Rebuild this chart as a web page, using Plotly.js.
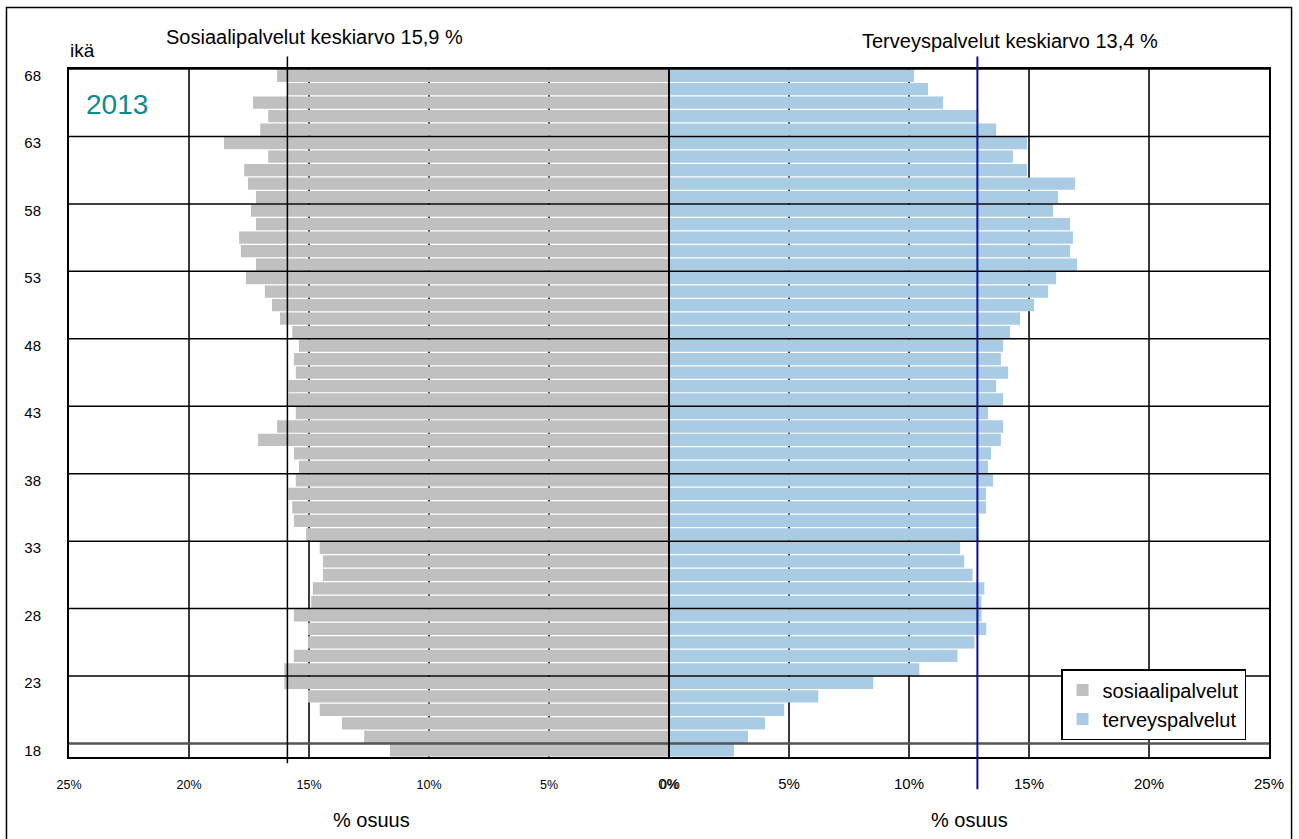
<!DOCTYPE html>
<html>
<head>
<meta charset="utf-8">
<script src="https://cdn.plot.ly/plotly-3.0.1.min.js"></script>
<style>
html,body{margin:0;padding:0;background:#fff;}
#chart{width:1299px;height:839px;}
</style>
</head>
<body>
<div id="chart"></div>
<script>
// Age categories (top to bottom)
const ages = [68,67,66,65,64,63,62,61,60,59,58,57,56,55,54,53,52,51,50,49,48,47,46,45,44,43,42,41,40,39,38,37,36,35,34,33,32,31,30,29,28,27,26,25,24,23,22,21,20,19,18];

// Share (%) – social services (drawn to the left)
const sosiaalipalvelut = [16.33,15.90,17.33,16.70,17.03,18.54,16.70,17.70,17.54,17.21,17.42,17.21,17.91,17.84,17.21,17.63,16.84,16.54,16.21,15.70,15.42,15.63,15.55,15.86,15.86,15.55,16.33,17.12,15.63,15.42,15.55,15.86,15.70,15.63,15.12,14.55,14.42,14.42,14.84,14.91,15.63,15.04,15.04,15.63,16.03,16.03,15.04,14.55,13.63,12.70,11.63];

// Share (%) – health services (drawn to the right)
const terveyspalvelut = [10.21,10.79,11.42,12.89,13.63,14.92,14.33,14.92,16.92,16.21,16.00,16.71,16.83,16.71,17.00,16.13,15.79,15.21,14.63,14.21,13.92,13.83,14.13,13.63,13.92,13.29,13.92,13.83,13.42,13.29,13.50,13.21,13.21,12.92,12.92,12.13,12.30,12.65,13.14,13.02,13.02,13.22,12.73,12.02,10.43,8.51,6.22,4.80,4.00,3.29,2.71];

// Average reference lines (positions)
const sosiaaliMean = 15.9;
const terveysMean = 12.85;

// Tick labels
const ageTickVals = [68,63,58,53,48,43,38,33,28,23,18];
const leftTickVals = [-25,-20,-15,-10,-5,0];
const leftTickText = ['25%','20%','15%','10%','5%','0%'];
const rightTickVals = [0,5,10,15,20,25];
const rightTickText = ['0%','5%','10%','15%','20%','25%'];

const seriesNames = ['sosiaalipalvelut','terveyspalvelut'];
const titleTexts = ['Sosiaalipalvelut keskiarvo 15,9 %','Terveyspalvelut keskiarvo 13,4 %'];
const yearText = '2013';
const ageTitle = 'ikä';
const axisTitle = '% osuus';

const FONT = 'Liberation Sans, Arial, sans-serif';

const traces = [
  {
    type:'bar', orientation:'h', name:seriesNames[0],
    y:ages, x:sosiaalipalvelut.map(v=>-v),
    marker:{color:'#C0C0C0', line:{width:0}},
    xaxis:'x', yaxis:'y', hoverinfo:'skip'
  },
  {
    type:'bar', orientation:'h', name:seriesNames[1],
    y:ages, x:terveyspalvelut,
    marker:{color:'#A9CCE4', line:{width:0}},
    xaxis:'x2', yaxis:'y', hoverinfo:'skip'
  }
];

const shapes = [];
ageTickVals.forEach(t=>{
  const last = (t === 18);
  shapes.push({type:'line', xref:'paper', yref:'y', x0:0, x1:1, y0:t+0.5, y1:t+0.5,
    line:{color: last ? '#555' : '#000', width: last ? 2.5 : 1.5}, layer:'above'});
});
// centre line
shapes.push({type:'line', xref:'x', yref:'paper', x0:0, x1:0, y0:0, y1:1, line:{color:'#000', width:2}, layer:'above'});
// mean lines
shapes.push({type:'line', xref:'x', yref:'paper', x0:-sosiaaliMean, x1:-sosiaaliMean, y0:-0.009, y1:1.018, line:{color:'#000', width:1.5}, layer:'above'});
shapes.push({type:'line', xref:'x', yref:'paper', x0:terveysMean, x1:terveysMean, y0:-0.047, y1:1.018, line:{color:'#10109a', width:2}, layer:'above'});
// outer frame
shapes.push({type:'rect', xref:'paper', yref:'paper', x0:-0.0521, x1:1.0188, y0:-0.2, y1:1.0894, line:{color:'#000', width:1.5}, fillcolor:'rgba(0,0,0,0)', layer:'above'});

function ann(text, x, y, size, color){
  return {text:text, xref:'paper', yref:'paper', x:x, y:y, xanchor:'center', yanchor:'middle',
          showarrow:false, font:{family:FONT, size:size, color:color}};
}
const annotations = [
  ann(ageTitle, 0.0113, 1.0276, 19, '#000'),
  ann(yearText, 0.0396, 0.9477, 28, '#0F8A8A'),
  ann(titleTexts[0], 0.2046, 1.0465, 20, '#000'),
  ann(titleTexts[1], 0.7838, 1.0407, 20, '#000'),
  ann(axisTitle, 0.2517, -0.0916, 20, '#000'),
  ann(axisTitle, 0.7508, -0.0916, 20, '#000')
];

const layout = {
  width:1299, height:839,
  margin:{l:69, r:30, t:69, b:82, pad:0},
  paper_bgcolor:'#fff', plot_bgcolor:'#fff',
  font:{family:FONT, color:'#000'},
  barmode:'overlay', bargap:0.09,
  showlegend:true,
  legend:{x:0.8267, y:0.1279, xanchor:'left', yanchor:'top', bgcolor:'#fff', bordercolor:'#000', borderwidth:1.5,
          font:{family:FONT, size:20, color:'#000'}, traceorder:'normal'},
  xaxis:{range:[-25,25], tickmode:'array', tickvals:leftTickVals, ticktext:leftTickText,
         tickfont:{family:FONT, size:12.5, color:'#000'}, ticks:'outside', ticklen:15, tickcolor:'rgba(0,0,0,0)',
         showgrid:true, gridcolor:'#3a3a3a', gridwidth:1.5, zeroline:false,
         showline:true, mirror:true, linecolor:'#000', linewidth:2, fixedrange:true},
  xaxis2:{range:[-25,25], overlaying:'x', anchor:'y', side:'bottom', tickmode:'array', tickvals:rightTickVals, ticktext:rightTickText,
         tickfont:{family:FONT, size:15, color:'#000'}, ticks:'outside', ticklen:13, tickcolor:'rgba(0,0,0,0)',
         showgrid:true, gridcolor:'#3a3a3a', gridwidth:1.5, zeroline:false, showline:false, fixedrange:true},
  yaxis:{range:[17.5,68.5], tickmode:'array', tickvals:ageTickVals, ticktext:ageTickVals.map(String),
         tickfont:{family:FONT, size:15, color:'#000'}, ticks:'outside', ticklen:23, tickcolor:'rgba(0,0,0,0)',
         showgrid:false, zeroline:false, showline:true, mirror:true, linecolor:'#000', linewidth:2, fixedrange:true},
  shapes:shapes,
  annotations:annotations
};

Plotly.newPlot('chart', traces, layout, {displayModeBar:false, staticPlot:true});
</script>
</body>
</html>
